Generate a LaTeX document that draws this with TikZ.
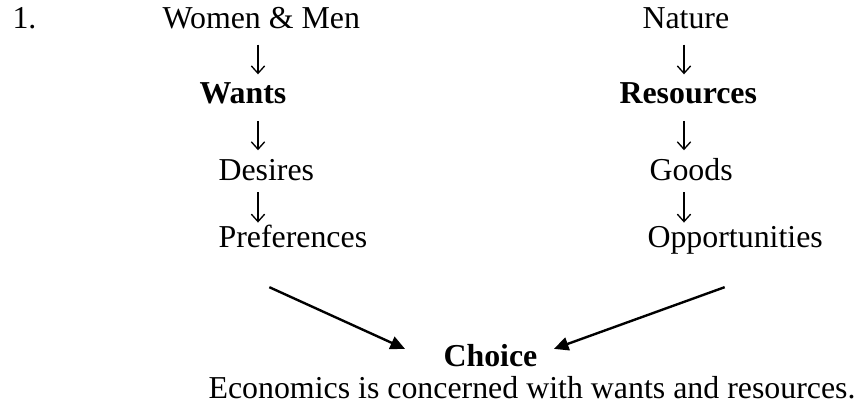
\documentclass[tikz,border=0pt]{standalone}
\usepackage{fontspec}
\setmainfont{Liberation Serif}
\usetikzlibrary{arrows.meta}
\usetikzlibrary{calc}

\begin{document}
\begin{tikzpicture}[x=0.3765pt,y=-0.3765pt,
            txt/.style = {inner sep=0pt,anchor=base west,
                font=\fontsize{12pt}{14pt}\selectfont,
                text height=0.7em,text depth=0.25em},
            head/.style = {txt,font=\fontsize{12pt}{14pt}\selectfont\bfseries},
            down/.style = {line width=0.5pt,shorten <=3.6pt,shorten >=3.6pt,
                -{Straight Barb[length=2.8pt,width=5pt]}},
            tight/.style = {shorten <=2pt,shorten >=2pt},
            toward/.style = {line width=0.9pt,-{Triangle[length=5.5pt,width=5pt]}}]
            \useasboundingbox (0,0) rectangle (858,408);
            \coordinate (lcol) at (258,0);
            \coordinate (rcol) at (684,0);
            \node[txt](num) at (12,28) {1.};
            % left column
            \node[txt](women) at (162,28) {Women \& Men};
            \node[head](wants) at (199,103) {Wants};
            \node[txt](desires) at (218,180) {Desires};
            \node[txt](prefs) at (218,247) {Preferences};
            % right column
            \node[txt](nature) at (642,28) {Nature};
            \node[head](resources) at (619,103) {Resources};
            \node[txt](goods) at (649,180) {Goods};
            \node[txt](opps) at (647,247) {Opportunities};
            % bottom
            \node[head](choice) at (443,366) {Choice};
            \node[txt](econ) at (208,398) {Economics is concerned with wants and resources.};
            \path[down]
                (women.south -| lcol) edge (wants.north -| lcol)
                (wants.south -| lcol) edge[shorten <=4pt,shorten >=4pt] (desires.north -| lcol)
                (desires.south -| lcol) edge[tight] (prefs.north -| lcol)
                (nature.south -| rcol) edge (resources.north -| rcol)
                (resources.south -| rcol) edge[shorten <=4pt,shorten >=4pt] (goods.north -| rcol)
                (goods.south -| rcol) edge[tight] (opps.north -| rcol);
            \draw[toward] ($(prefs.south)+(-23.5,33)$) -- ($(choice.north west)+(-38,2)$);
            \draw[toward] ($(opps.south)+(-10.5,33)$) -- ($(choice.north east)+(16,2)$);
        \end{tikzpicture}
\end{document}
